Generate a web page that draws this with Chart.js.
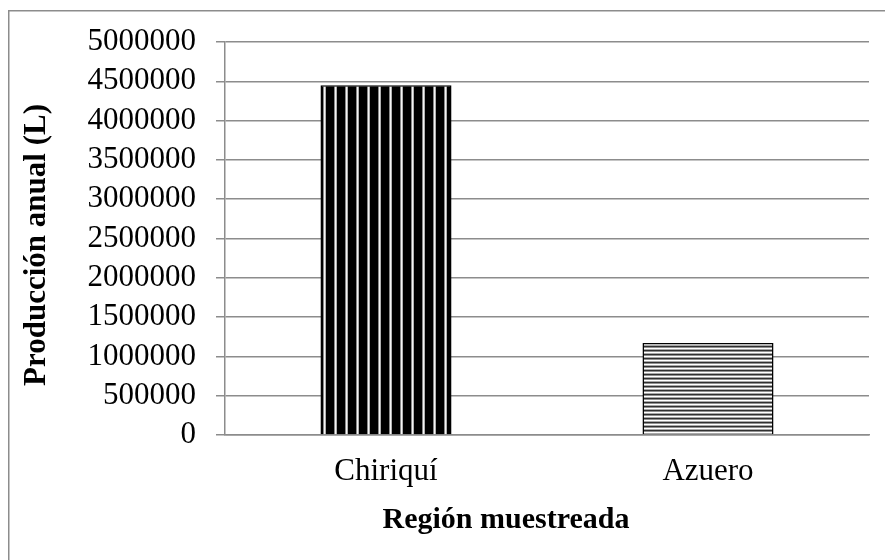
<!DOCTYPE html>
<html>
<head>
<meta charset="utf-8">
<script src="https://cdn.jsdelivr.net/npm/chart.js@4/dist/chart.umd.min.js"></script>
<style>
  html, body { margin: 0; padding: 0; background: #fff; }
  #wrap { width: 885px; height: 560px; position: relative; }
</style>
</head>
<body>
<div id="wrap"><canvas id="c" width="885" height="560"></canvas></div>
<script>
const categories = ["Chiriquí", "Azuero"];
const produccion = [4450000, 1170000];
const yTicks = [0, 500000, 1000000, 1500000, 2000000, 2500000, 3000000, 3500000, 4000000, 4500000, 5000000];
const yTitle = "Producción anual (L)";
const xTitle = "Región muestreada";

function verticalStripes() {
  const c = document.createElement('canvas');
  c.width = 11; c.height = 4;
  const g = c.getContext('2d');
  g.fillStyle = '#000'; g.fillRect(0, 0, 11, 4);
  g.fillStyle = '#8a8a8a'; g.fillRect(4, 0, 1, 4);
  g.fillStyle = '#f4f4f4'; g.fillRect(5, 0, 1, 4);
  g.fillStyle = '#b0b0b0'; g.fillRect(6, 0, 1, 4);
  return g.createPattern(c, 'repeat');
}
function horizontalStripes() {
  const c = document.createElement('canvas');
  c.width = 4; c.height = 4;
  const g = c.getContext('2d');
  g.fillStyle = '#fff'; g.fillRect(0, 0, 4, 4);
  g.fillStyle = '#a8a8a8'; g.fillRect(0, 1, 4, 1);
  g.fillStyle = '#303030'; g.fillRect(0, 2, 4, 1);
  g.fillStyle = '#909090'; g.fillRect(0, 3, 4, 1);
  return g.createPattern(c, 'repeat');
}

const frame = {
  id: 'frame',
  beforeDraw(chart) {
    const ctx = chart.ctx;
    ctx.save();
    ctx.fillStyle = '#fff';
    ctx.fillRect(0, 0, chart.width, chart.height);
    ctx.strokeStyle = '#8c8c8c';
    ctx.lineWidth = 1.5;
    ctx.strokeRect(8.75, 10.75, 1000, 1000);
    ctx.restore();
  },
  afterDraw(chart) {
    const ctx = chart.ctx;
    ctx.save();
    ctx.fillStyle = '#000';
    ctx.textAlign = 'center';
    ctx.textBaseline = 'middle';
    ctx.font = 'bold 30px "Liberation Serif"';
    ctx.fillText(xTitle, 506, 520);
    ctx.translate(37, 245);
    ctx.rotate(-Math.PI / 2);
    ctx.font = 'bold 31px "Liberation Serif"';
    ctx.fillText(yTitle, 0, 0);
    ctx.restore();
  }
};

const ctx = document.getElementById('c').getContext('2d');
new Chart(ctx, {
  type: 'bar',
  data: {
    labels: categories,
    datasets: [{
      data: produccion,
      backgroundColor: [verticalStripes(), horizontalStripes()],
      borderColor: '#000',
      borderWidth: 1.5,
      categoryPercentage: 1,
      barPercentage: 0.407
    }]
  },
  options: {
    responsive: false,
    animation: false,
    devicePixelRatio: 1,
    layout: { padding: { left: 0, right: 16, top: 42, bottom: 0 } },
    plugins: { legend: { display: false }, tooltip: { enabled: false } },
    scales: {
      y: {
        min: 0, max: 5000000,
        afterBuildTicks(s) { s.ticks = yTicks.map(v => ({ value: v })); },
        afterFit(s) { s.width = 225; },
        grid: { color: '#8c8c8c', lineWidth: 1.5, tickLength: 9, drawTicks: true },
        border: { display: true, color: '#8c8c8c', width: 1.5 },
        ticks: {
          autoSkip: false,
          padding: 20,
          color: '#000',
          font: { family: 'Liberation Serif', size: 31, lineHeight: 1 },
          callback: v => String(v)
        },
        title: { display: false }
      },
      x: {
        afterFit(s) { s.height = 125; },
        grid: { display: false, drawTicks: false },
        border: { display: true, color: '#8c8c8c', width: 1.5 },
        ticks: {
          autoSkip: false,
          padding: 18,
          color: '#000',
          font: { family: 'Liberation Serif', size: 31 }
        },
        title: { display: false }
      }
    }
  },
  plugins: [frame]
});
</script>
</body>
</html>
